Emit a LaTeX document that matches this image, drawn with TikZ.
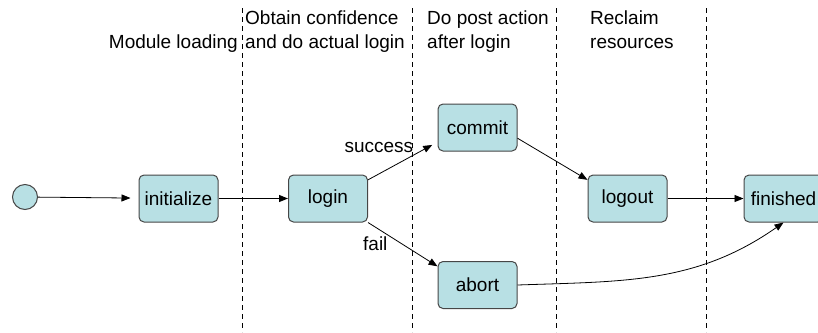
\documentclass[tikz,border=0pt]{standalone}
\usepackage{fontspec}
\setmainfont{Liberation Sans}
\usetikzlibrary{arrows.meta}
\definecolor{statefill}{RGB}{184,224,228}
\definecolor{stateline}{RGB}{70,70,70}

\begin{document}
\begin{tikzpicture}[
  x=1pt, y=-1pt,
  font=\fontsize{19}{24}\selectfont,
  state/.style={rectangle, rounded corners=5pt, draw=stateline, fill=statefill, line width=1pt,
    minimum width=79pt, minimum height=47pt, inner sep=2pt},
  initial/.style={circle, draw=stateline, fill=statefill, line width=1pt, minimum size=25pt, inner sep=0pt},
  phase/.style={align=left, anchor=north west, inner sep=0pt},
  border/.style={draw, dash pattern=on 5pt off 4pt, line width=0.8pt},
  trans/.style={draw, -{Triangle[length=9pt, width=7pt]}, line width=0.8pt},
  tag/.style={inner sep=1pt}
]
\useasboundingbox (0,0) rectangle (818,332);
\clip (0,0) rectangle (818,332);
\foreach \x in {242,412,556,706}
  \draw[border] (\x,8) -- (\x,332);

\node[phase, anchor=north east, align=right] (loading) at (238,35) {Module loading};
\node[phase] (obtain) at (245,11) {Obtain confidence\\and do actual login};
\node[phase] (postaction) at (427,11) {Do post action\\after login};
\node[phase] (reclaim) at (590,11) {Reclaim\\resources};

\node[initial] (start) at (25,197) {};
\node[state] (initialize) at (178.5,198.5) {initialize};
\node[state] (login) at (328,198.5) {login};
\node[state] (commit) at (477.5,127.5) {commit};
\node[state] (abort) at (477.5,285) {abort};
\node[state] (logout) at (627.5,198.5) {logout};
\node[state] (finished) at (783.5,198.5) {finished};

\draw[trans, shorten >=8pt] (start) -- (initialize);
\draw[trans] (initialize) -- (login);
\draw[trans, shorten >=6pt] (login.25) -- (commit.200)
  node[tag, pos=0.67, anchor=south east] (success) {success};
\draw[trans] (login.south east) -- (abort.155)
  node[tag, pos=0.3, anchor=north east] (fail) {fail};
\draw[trans] (commit.-15) -- (logout.155);
\draw[trans] (logout) -- (finished);
\draw[trans] (abort.east) to[out=2, in=-145] (finished.south);
\end{tikzpicture}
\end{document}
